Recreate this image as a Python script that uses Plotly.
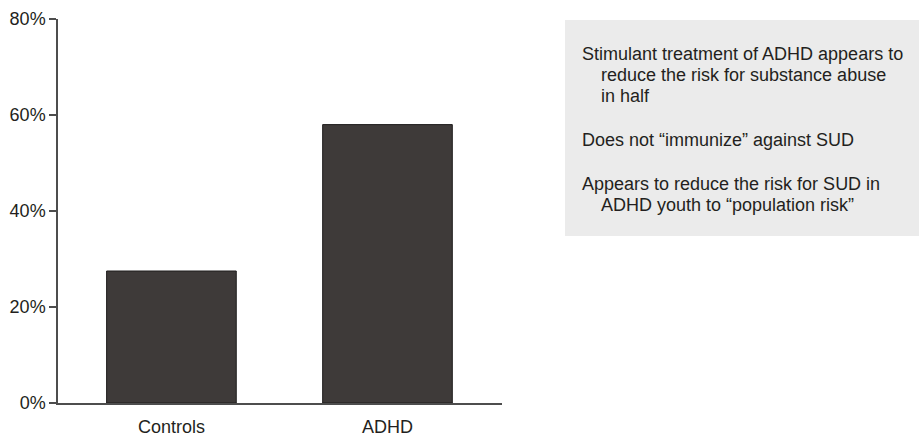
import plotly.graph_objects as go

categories = ["Controls", "ADHD"]
values = [27.5, 58]
y_ticks = [0, 20, 40, 60, 80]
y_tick_labels = ["0%", "20%", "40%", "60%", "80%"]
note_lines = [
    ("Stimulant treatment of ADHD appears to", 0),
    ("reduce the risk for substance abuse", 1),
    ("in half", 1),
    ("Does not \u201cimmunize\u201d against SUD", 0),
    ("Appears to reduce the risk for SUD in", 0),
    ("ADHD youth to \u201cpopulation risk\u201d", 1),
]
note_line_y = [54, 75, 96, 140, 184, 205]

W, H = 919, 438
L, R, T, B = 58, 417, 19, 35
pw, ph = W - L - R, H - T - B

def px(x):
    return (x - L) / pw

def py(y):
    return (H - B - y) / ph

font = "Liberation Sans, Arial, sans-serif"
ink = "#231f20"

fig = go.Figure()
fig.add_trace(go.Bar(
    x=categories, y=values, width=0.6,
    marker=dict(color="#3e3a39", line=dict(color="#1e1c1c", width=1)),
))

fig.add_shape(type="rect", xref="paper", yref="paper",
              x0=px(565), x1=px(921), y0=py(236), y1=py(20),
              fillcolor="#ebebeb", line=dict(width=0), layer="below")

for (txt, ind), yy in zip(note_lines, note_line_y):
    fig.add_annotation(xref="paper", yref="paper", x=px(580 + 19 * ind), y=py(yy),
                       xanchor="left", yanchor="middle", text=txt, showarrow=False,
                       font=dict(family=font, size=18, color=ink))

fig.update_layout(
    width=W, height=H,
    margin=dict(l=L, r=R, t=T, b=B, pad=0, autoexpand=False),
    plot_bgcolor="white", paper_bgcolor="white",
    showlegend=False,
    font=dict(family=font, size=18, color=ink),
    xaxis=dict(range=[-0.525, 1.53], showline=True, linecolor="#4d4d4d", linewidth=1.5,
               ticks="", showgrid=False, zeroline=False, tickfont=dict(size=18),
               ticklabelstandoff=7, automargin=False),
    yaxis=dict(range=[0, 80], tickvals=y_ticks, ticktext=y_tick_labels,
               showline=True, linecolor="#4d4d4d", linewidth=1.5,
               ticks="outside", ticklen=7, tickcolor="#4d4d4d", tickwidth=1.5,
               showgrid=False, zeroline=False, tickfont=dict(size=18), automargin=False),
)

fig.write_html("out.html", config={"displayModeBar": False},
               post_script="document.body.style.margin='0';")
